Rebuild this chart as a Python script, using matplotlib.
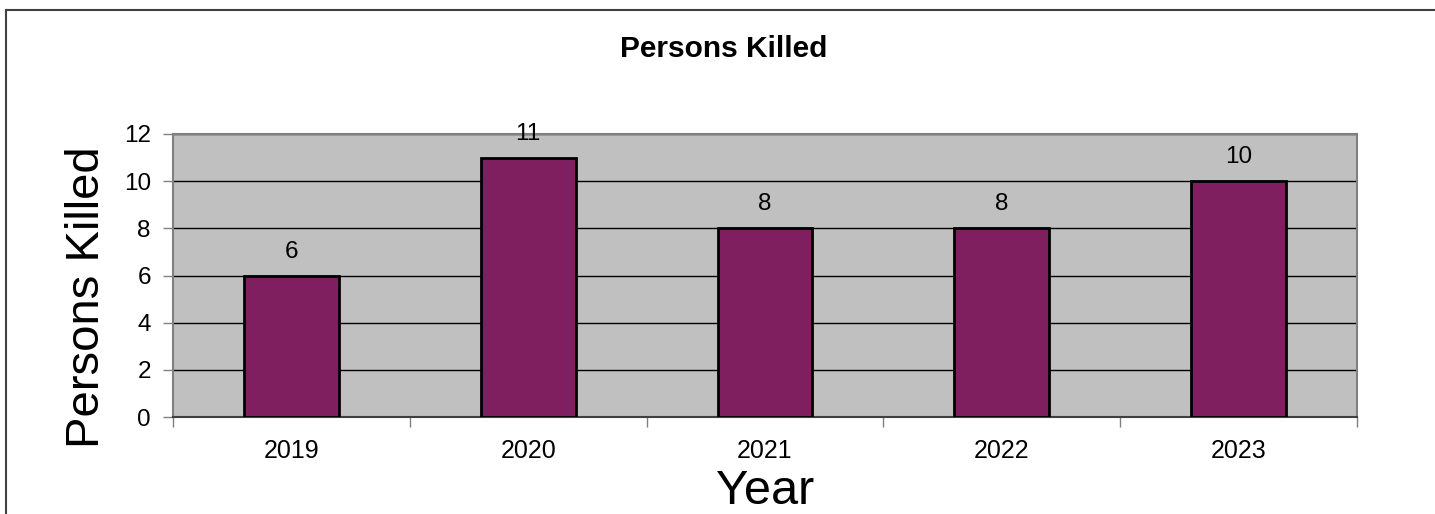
import matplotlib
matplotlib.use("Agg")
import matplotlib.pyplot as plt
from matplotlib.lines import Line2D

years = ["2019", "2020", "2021", "2022", "2023"]
killed = [6, 11, 8, 8, 10]
y_ticks = [0, 2, 4, 6, 8, 10, 12]

plt.rcParams['font.family'] = ['Liberation Sans', 'DejaVu Sans']

fig = plt.figure(figsize=(14.35, 5.14), dpi=100)
ax = fig.add_axes([173 / 1435, 1 - 417 / 514, (1357 - 173) / 1435, (417 - 134) / 514])

x = list(range(len(years)))
ax.set_facecolor('#C0C0C0')
ax.bar(x, killed, width=0.4, color='#7F1F5F', edgecolor='black', linewidth=2, zorder=3)
for xi, v in zip(x, killed):
    ax.text(xi, v + 0.55, str(v), ha='center', va='bottom', fontsize=17.5, zorder=4)

ax.set_xlim(-0.5, len(years) - 0.5)
ax.set_ylim(0, 12)
ax.set_yticks(y_ticks)
ax.tick_params(axis='y', labelsize=17.5, length=7, width=1, color='#808080', pad=9)
ax.grid(axis='y', color='black', linewidth=1, zorder=1)

# category labels centered, ticks between categories
ax.set_xticks(x)
ax.set_xticklabels(years, fontsize=18)
ax.tick_params(axis='x', which='major', length=0, pad=16)
ax.set_xticks([i - 0.5 for i in range(len(years) + 1)], minor=True)
ax.tick_params(axis='x', which='minor', length=7, width=1, color='#808080')

for side in ['top', 'right', 'left']:
    ax.spines[side].set_color('#808080')
    ax.spines[side].set_linewidth(1.5)
ax.spines['bottom'].set_color('#404040')
ax.spines['bottom'].set_linewidth(1.5)

ax.set_xlabel('Year', fontsize=35, labelpad=4)
fig.text(87 / 1435, 1 - 297.5 / 514, 'Persons Killed', rotation=90, ha='center', va='center', fontsize=34)
fig.text(723.5 / 1435, 1 - 49 / 514, 'Persons Killed', ha='center', va='center', fontsize=21.5, fontweight='bold')

# outer chart frame (cut at right and bottom)
fig.add_artist(Line2D([6 / 1435, 1.0], [1 - 10 / 514, 1 - 10 / 514], transform=fig.transFigure, color='#404040', linewidth=1.5))
fig.add_artist(Line2D([6 / 1435, 6 / 1435], [0.0, 1 - 10 / 514], transform=fig.transFigure, color='#404040', linewidth=1.5))

fig.savefig('out.png', dpi=100)
